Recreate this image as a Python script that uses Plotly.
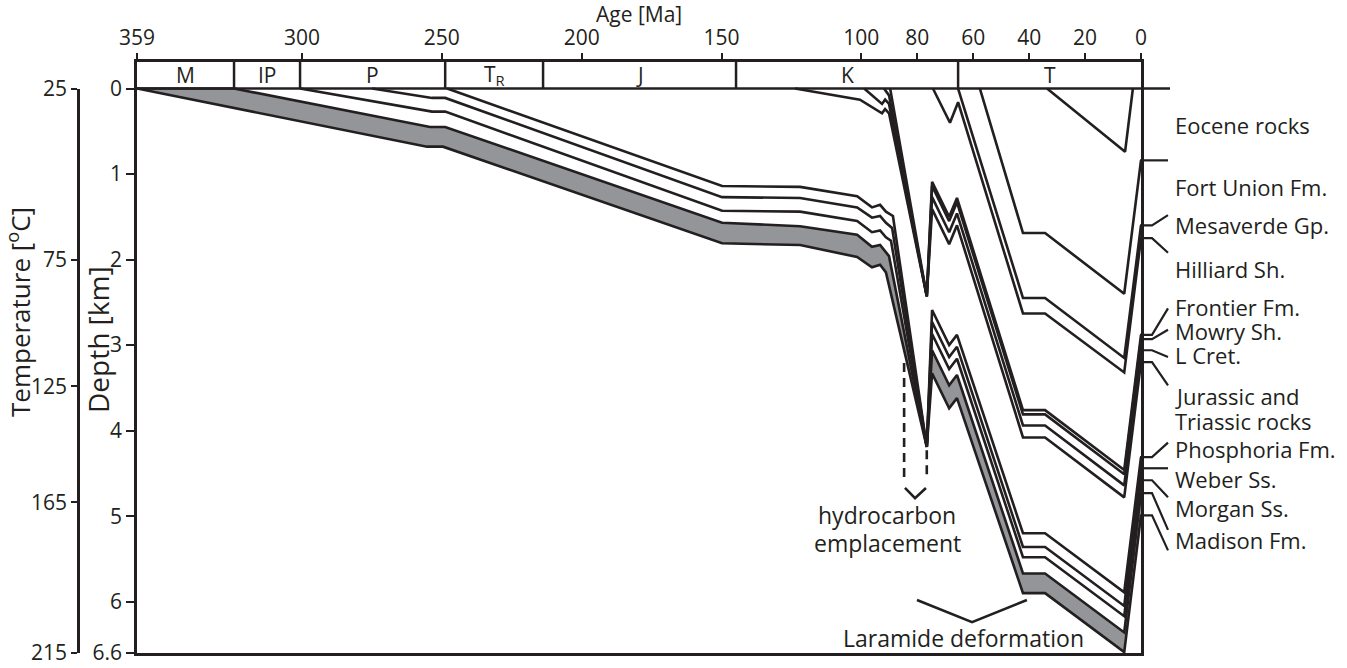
import plotly.graph_objects as go

# ---------------- axis / label data ----------------
age_ticks = [359, 300, 250, 200, 150, 100, 80, 60, 40, 20, 0]
depth_ticks = [0, 1, 2, 3, 4, 5, 6, 6.6]
depth_tick_text = ["0", "1", "2", "3", "4", "5", "6", "6.6"]
temp_labels = ["25", "75", "125", "165", "215"]
temp_depths = [0, 2.0, 3.48, 4.84, 6.6]

period_names = ["M", "IP", "P", "T<sub>R</sub>", "J", "K", "T"]
period_bounds = [359, 324.3, 300.7, 248.8, 213.8, 144.8, 65.4, 0]

# ---------------- burial curves (age Ma, depth km) ----------------
madison_base_age = [359, 255.3, 249.6, 149.8, 121.9, 101.5, 96.2, 93.3, 91.2, 76.6, 74.7, 68.6, 65.8, 42.2, 34.3, 6.0, 0]
madison_base_dep = [0, 0.68, 0.68, 1.81, 1.83, 1.97, 2.09, 2.06, 2.15, 4.19, 3.33, 3.74, 3.62, 5.90, 5.90, 6.59, 4.99]

morgan_base_age = [359, 324.3, 254.2, 248.8, 149.8, 121.9, 101.5, 96.2, 93.3, 91.2, 90.1, 76.6, 74.7, 68.6, 65.8, 42.2, 34.3, 6.0, 0]
morgan_base_dep = [0, 0, 0.45, 0.45, 1.57, 1.61, 1.71, 1.85, 1.83, 1.91, 1.96, 4.19, 3.06, 3.47, 3.35, 5.67, 5.67, 6.36, 4.73]

weber_base_age = [300.7, 253.5, 248.8, 149.8, 121.9, 101.5, 96.2, 93.3, 91.2, 89.4, 76.6, 74.7, 68.6, 65.8, 42.2, 34.3, 6.0, 0]
weber_base_dep = [0, 0.27, 0.27, 1.43, 1.44, 1.55, 1.68, 1.66, 1.74, 1.78, 4.19, 2.87, 3.28, 3.16, 5.48, 5.48, 6.17, 4.58]

phosphoria_base_age = [274.9, 253.5, 248.8, 149.8, 121.9, 101.5, 96.2, 93.3, 91.2, 89.0, 76.6, 74.7, 68.6, 65.8, 42.2, 34.3, 6.0, 0]
phosphoria_base_dep = [0, 0.11, 0.11, 1.27, 1.28, 1.39, 1.51, 1.49, 1.57, 1.63, 4.19, 2.73, 3.14, 3.02, 5.36, 5.36, 6.05, 4.44]

triassic_base_age = [248.1, 149.8, 121.9, 101.5, 96.2, 93.3, 91.2, 88.7, 76.6, 74.7, 68.6, 65.8, 42.2, 34.3, 6.0, 0]
triassic_base_dep = [0, 1.14, 1.15, 1.26, 1.39, 1.36, 1.44, 1.49, 4.19, 2.59, 3.00, 2.88, 5.20, 5.20, 5.89, 4.31]

lcret_base_age = [123.7, 100.5, 92.6, 91.5, 90.1, 76.6, 74.7, 68.6, 65.8, 42.2, 34.3, 6.0, 0]
lcret_base_dep = [0, 0.13, 0.29, 0.24, 0.29, 2.43, 1.41, 1.82, 1.60, 4.08, 4.08, 4.78, 3.20]

mowry_base_age = [99.0, 92.6, 91.5, 90.1, 76.6, 74.7, 68.6, 65.8, 42.2, 34.3, 6.0, 0]
mowry_base_dep = [0, 0.18, 0.13, 0.18, 2.43, 1.27, 1.68, 1.46, 3.94, 3.94, 4.64, 3.06]

frontier_base_age = [91.9, 90.1, 76.6, 74.7, 68.6, 65.8, 42.2, 34.3, 6.0, 0]
frontier_base_dep = [0, 0.08, 2.43, 1.14, 1.55, 1.33, 3.81, 3.81, 4.51, 2.93]

hilliard_base_age = [89.7, 76.6, 74.7, 68.6, 65.8, 42.2, 34.3, 6.0, 0]
hilliard_base_dep = [0, 2.43, 1.09, 1.50, 1.28, 3.76, 3.76, 4.46, 2.88]

mesaverde_base_age = [74.4, 68.3, 65.4, 42.2, 34.3, 6.0, 0]
mesaverde_base_dep = [0, 0.40, 0.16, 2.63, 2.63, 3.32, 1.75]

fortunion_base_age = [65.4, 42.2, 34.3, 6.0, 0]
fortunion_base_dep = [0, 2.45, 2.45, 3.15, 1.60]

eocene_base_age = [57.6, 42.2, 34.3, 6.0, 0]
eocene_base_dep = [0, 1.69, 1.69, 2.40, 0.84]

eocene_inner_age = [33.6, 5.7, 2.9]
eocene_inner_dep = [0, 0.74, 0]

# annotation marks
laramide_age = [80.1, 60.4, 40.8]
laramide_dep = [5.98, 6.24, 5.98]
hc_left_age = [84.7, 84.7]
hc_left_dep = [3.21, 4.55]
hc_right_age = [76.6, 76.6]
hc_right_dep = [4.23, 4.55]
hc_head_age = [84.4, 80.8, 76.9]
hc_head_dep = [4.67, 4.79, 4.67]

# right-hand formation labels (text, depth of label centre)
right_labels = [
    ("Eocene rocks", 0.43), ("Fort Union Fm.", 1.15), ("Mesaverde Gp.", 1.59),
    ("Hilliard Sh.", 2.11), ("Frontier Fm.", 2.55), ("Mowry Sh.", 2.84),
    ("L Cret.", 3.12), ("Jurassic and", 3.60), ("Triassic rocks", 3.89),
    ("Phosphoria Fm.", 4.22), ("Weber Ss.", 4.56), ("Morgan Ss.", 4.91),
    ("Madison Fm.", 5.28),
]
# leader lines: (present depth of boundary, depth where leader ends)
leaders = [
    (eocene_base_dep[-1], eocene_base_dep[-1]),
    (fortunion_base_dep[-1], 1.48),
    (mesaverde_base_dep[-1], 1.92),
    (hilliard_base_dep[-1], 2.57),
    (frontier_base_dep[-1], 2.82),
    (mowry_base_dep[-1], 3.14),
    (lcret_base_dep[-1], 3.47),
    (triassic_base_dep[-1], 4.14),
    (phosphoria_base_dep[-1], phosphoria_base_dep[-1]),
    (weber_base_dep[-1], 4.78),
    (morgan_base_dep[-1], 5.16),
    (madison_base_dep[-1], 5.40),
]

# ---------------- layout geometry ----------------
W, H = 1347, 668
ML, MR, MT, MB = 60, 206, 62, 15
PW = W - ML - MR
PH = H - MT - MB
INK = "#231f20"
GREY = "#939598"
LW = 2.6


def px_x(px):
    return (px - ML) / PW


def px_y(py):
    return (H - MB - py) / PH


Y_TOP = -0.31

fig = go.Figure()

# Madison grey band
fig.add_trace(go.Scatter(
    x=madison_base_age + morgan_base_age[::-1],
    y=madison_base_dep + morgan_base_dep[::-1],
    fill="toself", fillcolor=GREY, mode="lines", line=dict(width=0),
    hoverinfo="skip", showlegend=False))

horizons = [
    (madison_base_age, madison_base_dep), (morgan_base_age, morgan_base_dep),
    (weber_base_age, weber_base_dep), (phosphoria_base_age, phosphoria_base_dep),
    (triassic_base_age, triassic_base_dep), (lcret_base_age, lcret_base_dep),
    (mowry_base_age, mowry_base_dep), (frontier_base_age, frontier_base_dep),
    (hilliard_base_age, hilliard_base_dep), (mesaverde_base_age, mesaverde_base_dep),
    (fortunion_base_age, fortunion_base_dep), (eocene_base_age, eocene_base_dep),
    (eocene_inner_age, eocene_inner_dep),
]
for a, d in horizons:
    fig.add_trace(go.Scatter(x=a, y=d, mode="lines",
                             line=dict(color=INK, width=LW),
                             hoverinfo="skip", showlegend=False))

# Laramide bracket
fig.add_trace(go.Scatter(x=laramide_age, y=laramide_dep, mode="lines",
                         line=dict(color=INK, width=LW), hoverinfo="skip", showlegend=False))
# hydrocarbon emplacement dashed arrow
for a, d in [(hc_left_age, hc_left_dep), (hc_right_age, hc_right_dep)]:
    fig.add_trace(go.Scatter(x=a, y=d, mode="lines",
                             line=dict(color=INK, width=LW, dash="9px,6px"),
                             hoverinfo="skip", showlegend=False))
fig.add_trace(go.Scatter(x=hc_head_age, y=hc_head_dep, mode="lines",
                         line=dict(color=INK, width=LW), hoverinfo="skip", showlegend=False))

# dummy trace so the temperature axis is drawn
fig.add_trace(go.Scatter(x=[100], y=[3], xaxis="x", yaxis="y2", mode="markers",
                         marker=dict(opacity=0), hoverinfo="skip", showlegend=False))

shapes = []
# period boundaries in the top strip
for b in period_bounds[1:-1]:
    shapes.append(dict(type="line", xref="x", yref="y", x0=b, x1=b, y0=Y_TOP, y1=0,
                       line=dict(color=INK, width=2.5)))
# surface line (extends beyond right border)
shapes.append(dict(type="line", xref="paper", yref="y", x0=px_x(137), x1=px_x(1170),
                   y0=0, y1=0, line=dict(color=INK, width=2.5)))
# leaders
for yl, yr in leaders:
    if yl == yr:
        path = f"M {px_x(1140)},{yl} L {px_x(1168)},{yr}"
    else:
        path = f"M {px_x(1140)},{yl} L {px_x(1152)},{yl} L {px_x(1168)},{yr}"
    shapes.append(dict(type="path", xref="paper", yref="y", path=path,
                       line=dict(color=INK, width=2.2)))

annotations = []
for i, name in enumerate(period_names):
    mid = (period_bounds[i] + period_bounds[i + 1]) / 2
    annotations.append(dict(x=mid, y=Y_TOP / 2, xref="x", yref="y", text=name,
                            showarrow=False, font=dict(size=21, color=INK),
                            xanchor="center", yanchor="middle"))
for txt, d in right_labels:
    annotations.append(dict(x=px_x(1173), y=d, xref="paper", yref="y", text=txt,
                            showarrow=False, font=dict(size=22, color=INK),
                            xanchor="left", yanchor="middle", align="left"))
annotations.append(dict(x=90.8, y=4.99, xref="x", yref="y",
                        text="hydrocarbon", showarrow=False,
                        font=dict(size=23, color=INK), xanchor="center", yanchor="middle"))
annotations.append(dict(x=90.8, y=5.31, xref="x", yref="y",
                        text="emplacement", showarrow=False,
                        font=dict(size=23, color=INK), xanchor="center", yanchor="middle"))
annotations.append(dict(x=63.6, y=6.42, xref="x", yref="y",
                        text="Laramide deformation", showarrow=False,
                        font=dict(size=23, color=INK), xanchor="center", yanchor="middle"))
annotations.append(dict(x=px_x(639), y=px_y(14), xref="paper", yref="paper",
                        text="Age [Ma]", showarrow=False, font=dict(size=21, color=INK),
                        xanchor="center", yanchor="middle"))
annotations.append(dict(x=px_x(98), y=px_y(340), xref="paper", yref="paper",
                        text="Depth [km]", showarrow=False, textangle=-90,
                        font=dict(size=28, color=INK), xanchor="center", yanchor="middle"))
annotations.append(dict(x=px_x(19), y=px_y(312), xref="paper", yref="paper",
                        text="Temperature [<sup>o</sup>C]", showarrow=False, textangle=-90,
                        font=dict(size=26, color=INK), xanchor="center", yanchor="middle"))

fig.update_layout(
    width=W, height=H, autosize=False,
    margin=dict(l=ML, r=MR, t=MT, b=MB, pad=0, autoexpand=False),
    paper_bgcolor="white", plot_bgcolor="rgba(0,0,0,0)",
    font=dict(family="Open Sans, sans-serif", size=21, color=INK),
    showlegend=False,
    xaxis=dict(domain=[px_x(137), 1], range=[359, 0], side="top", anchor="y",
               automargin=False,
               tickvals=age_ticks, ticktext=[str(v) for v in age_ticks],
               ticks="outside", ticklen=6, tickwidth=2, tickcolor=INK,
               showline=True, linewidth=2.5, linecolor=INK, mirror=True,
               showgrid=False, zeroline=False, tickfont=dict(size=21, color=INK)),
    yaxis=dict(domain=[0, 1], range=[6.6, Y_TOP], anchor="x", automargin=False,
               tickvals=depth_ticks, ticktext=depth_tick_text,
               ticks="outside", ticklen=8, tickwidth=2, tickcolor=INK,
               showline=True, linewidth=2.5, linecolor=INK, mirror=True,
               showgrid=False, zeroline=False, tickfont=dict(size=21, color=INK)),
    yaxis2=dict(domain=[0, px_y(88.5)], range=[6.6, 0], anchor="free",
                position=px_x(78), side="left", automargin=False,
                tickvals=temp_depths, ticktext=temp_labels,
                ticks="outside", ticklen=6, tickwidth=2, tickcolor=INK,
                showline=True, linewidth=2.5, linecolor=INK,
                showgrid=False, zeroline=False, tickfont=dict(size=21, color=INK)),
    shapes=shapes,
    annotations=annotations,
)

fig.write_html("out.html")
